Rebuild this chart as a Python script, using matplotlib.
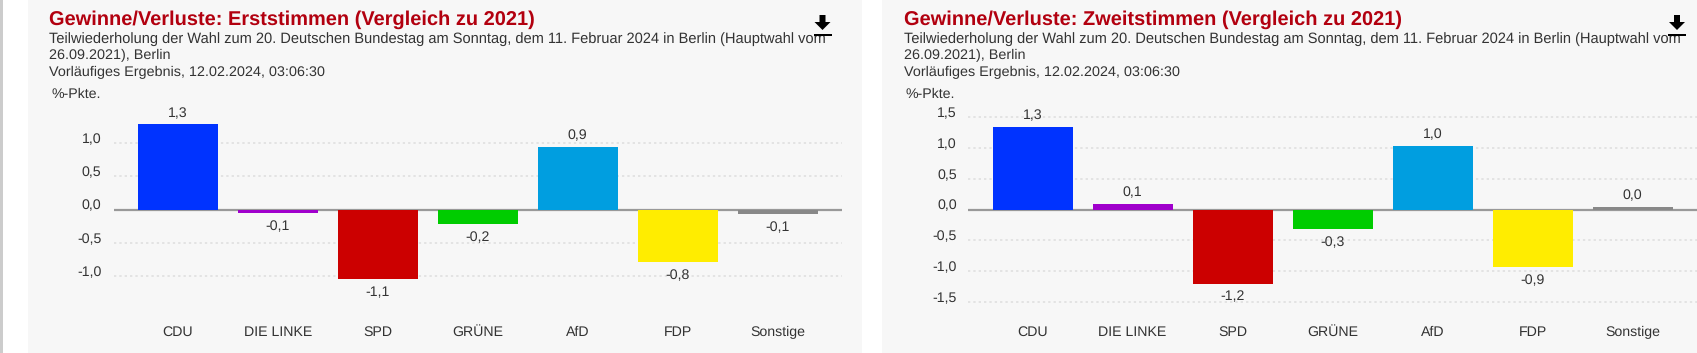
import matplotlib
matplotlib.use("Agg")
import matplotlib.pyplot as plt
from matplotlib.patches import Rectangle, Polygon
from matplotlib.transforms import ScaledTranslation

plt.rcParams['font.family'] = ['Liberation Sans', 'DejaVu Sans']
plt.rcParams['text.hinting'] = 'none'

W, H = 1697, 353

parties = ['CDU', 'DIE LINKE', 'SPD', 'GRÜNE', 'AfD', 'FDP', 'Sonstige']
colors = ['#0033ff', '#a000cc', '#cc0000', '#00cc00', '#009ee0', '#ffed00', '#888888']

# bar heights, labels as printed
erst_values = [1.28, -0.05, -1.04, -0.22, 0.94, -0.78, -0.07]
erst_labels = ['1,3', '-0,1', '-1,1', '-0,2', '0,9', '-0,8', '-0,1']
erst_ticks = [-1.0, -0.5, 0.0, 0.5, 1.0]
erst_ticklabels = ['-1,0', '-0,5', '0,0', '0,5', '1,0']

zweit_values = [1.34, 0.09, -1.20, -0.32, 1.04, -0.93, 0.05]
zweit_labels = ['1,3', '0,1', '-1,2', '-0,3', '1,0', '-0,9', '0,0']
zweit_ticks = [-1.5, -1.0, -0.5, 0.0, 0.5, 1.0, 1.5]
zweit_ticklabels = ['-1,5', '-1,0', '-0,5', '0,0', '0,5', '1,0', '1,5']

title_erst = 'Gewinne/Verluste: Erststimmen (Vergleich zu 2021)'
title_zweit = 'Gewinne/Verluste: Zweitstimmen (Vergleich zu 2021)'
sub1 = 'Teilwiederholung der Wahl zum 20. Deutschen Bundestag am Sonntag, dem 11. Februar 2024 in Berlin (Hauptwahl vom'
sub2 = '26.09.2021), Berlin'
sub3 = 'Vorläufiges Ergebnis, 12.02.2024, 03:06:30'

fig = plt.figure(figsize=(W / 100, H / 100), dpi=100, facecolor='white')


def fx(x):
    return x / W


def fy(y):
    return 1 - y / H


def back(x0, x1, color):
    fig.patches.append(Rectangle((fx(x0), 0), (x1 - x0) / W, 1, transform=fig.transFigure,
                                 facecolor=color, edgecolor='none', zorder=-5))


def panel(left, right, first_center, zero_y, half_px, values, labels, ticks, ticklabels,
          title, tick_right, text_left, unit_left, icon_x):
    top, bottom = 100, 312
    ax = fig.add_axes([fx(left), fy(bottom), (right - left) / W, (bottom - top) / H])
    ax.patch.set_alpha(0)
    px = half_px * 2
    ax.set_ylim((zero_y - bottom) / px, (zero_y - top) / px)
    ax.set_xlim((left - first_center) / 100, (right - first_center) / 100)
    for s in ax.spines.values():
        s.set_visible(False)

    ax.bar(range(len(values)), values, width=0.8, color=colors, edgecolor='none', zorder=3)
    ax.axhline(0, color='#999999', linewidth=1.6, zorder=2)
    for t in ticks:
        if t != 0:
            ax.axhline(t, color='#dddddd', linewidth=1.1, linestyle=(0, (1.5, 2)), zorder=1)

    for i, (v, lab) in enumerate(zip(values, labels)):
        off = 11 if v >= 0 else -13.5
        ax.annotate(lab, (i, v), xytext=(0, off), textcoords='offset pixels', ha='center',
                    va='center', fontsize=10.2, color='#333333', zorder=4)

    ax.set_xticks(range(len(parties)))
    ax.set_xticklabels(parties, fontsize=10.2, color='#333333')
    ax.tick_params(axis='x', length=0, pad=10)
    ax.set_yticks(ticks)
    ax.set_yticklabels(ticklabels, fontsize=10.2, color='#333333')
    ax.tick_params(axis='y', length=0, pad=(left - tick_right) * 0.72)
    # tick labels sit a little above their grid line
    shift = ScaledTranslation(0, 5 / 100, fig.dpi_scale_trans)
    for lab in ax.get_yticklabels():
        lab.set_transform(lab.get_transform() + shift)

    fig.text(fx(text_left), fy(20), title, fontsize=14.4, fontweight='bold', color='#b2000f',
             va='center', ha='left')
    for y, s, size in [(39, sub1, 10.56), (55.7, sub2, 10.4), (72.4, sub3, 10.4)]:
        fig.text(fx(text_left), fy(y), s, fontsize=size, color='#333333', va='center', ha='left')
    fig.text(fx(unit_left), fy(94), '%-Pkte.', fontsize=10.2, color='#333333', va='center', ha='left')

    # download icon
    arrow = [(icon_x - 3, 15), (icon_x + 3, 15), (icon_x + 3, 22), (icon_x + 8, 22),
             (icon_x, 30), (icon_x - 8, 22), (icon_x - 3, 22)]
    fig.patches.append(Polygon([(fx(a), fy(b)) for a, b in arrow], closed=True,
                               transform=fig.transFigure, facecolor='black', edgecolor='none', zorder=10))
    fig.patches.append(Rectangle((fx(icon_x - 9), fy(35.5)), 18 / W, 2 / H, transform=fig.transFigure,
                                 facecolor='black', edgecolor='none', zorder=10))
    return ax


back(0, 2.7, '#cccccc')
back(28.5, 862, '#f7f7f7')
back(882, W, '#f7f7f7')

panel(113.5, 842, 177.7, 209.6, 33.4, erst_values, erst_labels, erst_ticks, erst_ticklabels,
      title_erst, 101.5, 49, 51, 822.5)
panel(968, 1697, 1032.6, 209.6, 30.8, zweit_values, zweit_labels, zweit_ticks, zweit_ticklabels,
      title_zweit, 957, 904, 906, 1677)

fig.savefig('out.png', dpi=100)
